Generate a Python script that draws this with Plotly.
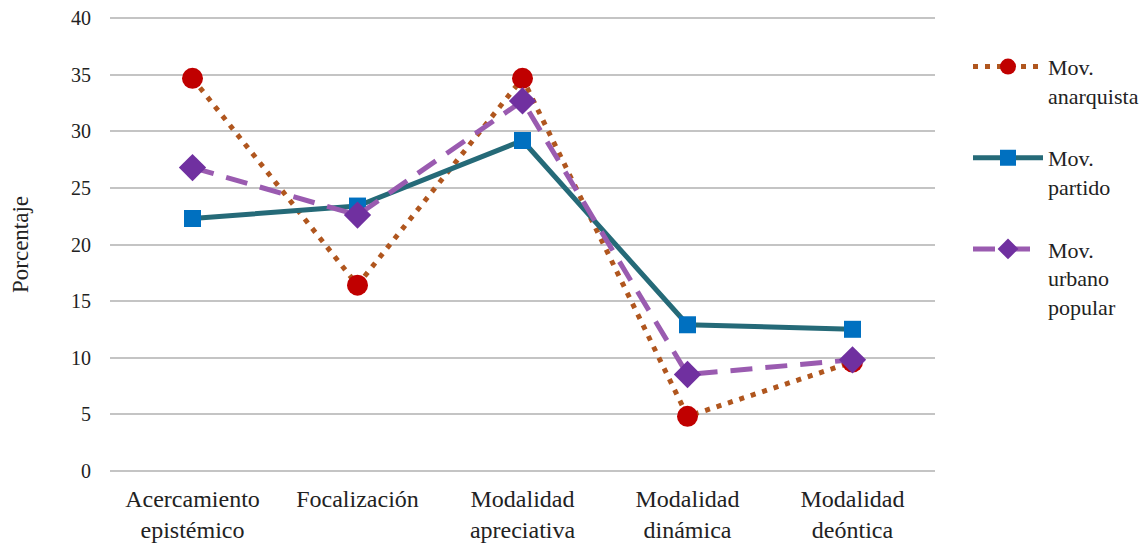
import plotly.graph_objects as go

categories = ["Acercamiento<br>epistémico", "Focalización", "Modalidad<br>apreciativa",
              "Modalidad<br>dinámica", "Modalidad<br>deóntica"]
anarquista = [34.7, 16.4, 34.7, 4.8, 9.6]
partido = [22.3, 23.4, 29.2, 12.9, 12.5]
urbano = [26.8, 22.6, 32.7, 8.5, 9.8]
y_ticks = [0, 5, 10, 15, 20, 25, 30, 35, 40]

FONT = "Liberation Serif"

fig = go.Figure()
fig.add_trace(go.Scatter(
    x=categories, y=anarquista, name="Mov.<br>anarquista", mode="lines+markers",
    legendgroup="a",
    line=dict(color="#B0561E", width=5, dash="5px,7px"),
    marker=dict(symbol="circle", size=21, color="#C00000"),
))
fig.add_trace(go.Scatter(
    x=categories, y=partido, name="Mov.<br>partido", mode="lines+markers",
    legendgroup="b",
    line=dict(color="#256A78", width=5),
    marker=dict(symbol="square", size=17, color="#0070C0"),
))
fig.add_trace(go.Scatter(
    x=categories, y=urbano, name="Mov.<br>urbano<br>popular", mode="lines+markers",
    legendgroup="c",
    line=dict(color="#9A5BB0", width=5, dash="22px,13px"),
    marker=dict(symbol="diamond", size=21, color="#7030A0"),
))

fig.update_layout(
    width=1146, height=544,
    margin=dict(l=110, r=211, t=15, b=70, autoexpand=False),
    plot_bgcolor="white", paper_bgcolor="white",
    font=dict(family=FONT, size=22, color="#222222"),
    showlegend=True,
    legend=dict(x=1.04, y=0.933, xanchor="left", yanchor="top",
                tracegroupgap=31, valign="top", itemwidth=70,
                font=dict(family=FONT, size=22, color="#222222")),
    xaxis=dict(type="category", range=[-0.5, 4.5], showgrid=False, showline=False,
               ticks="", tickfont=dict(size=24), ticklabelstandoff=8),
    yaxis=dict(range=[-0.3, 40.3], tickvals=y_ticks, showgrid=True, gridcolor="#C4C4C4",
               gridwidth=2, zeroline=False, showline=False, ticks="",
               ticklabelstandoff=18,
               tickfont=dict(size=20),
               title=dict(text="Porcentaje", font=dict(size=23), standoff=35)),
)

fig.write_html("out.html", config={"displayModeBar": False},
               post_script="document.body.style.margin='0';document.body.style.overflow='hidden';")
